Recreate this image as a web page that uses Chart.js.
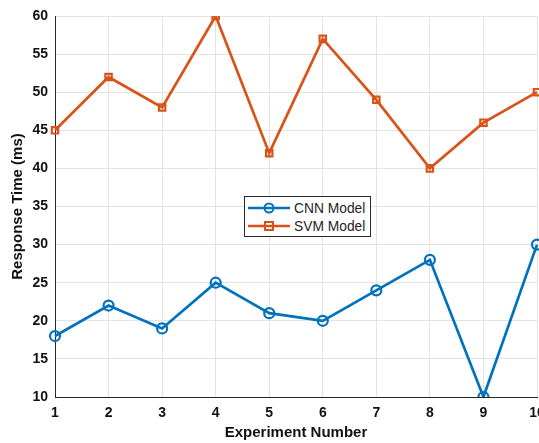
<!DOCTYPE html>
<html>
<head>
<meta charset="utf-8">
<script src="https://cdn.jsdelivr.net/npm/chart.js@4/dist/chart.umd.min.js"></script>
<style>
    html, body { margin: 0; padding: 0; background: #fff; overflow: hidden; }
    #wrap { position: relative; width: 539px; height: 443px; overflow: hidden; }
    #chart { position: absolute; left: 0; top: 0; }
    #legend {
        position: absolute; left: 244px; top: 196px; width: 125px; height: 39px;
        border: 1px solid #262626; background: #fff;
        font: 13.8px Arial, "Liberation Sans", sans-serif; color: #262626;
    }
    .row { position: absolute; left: 3px; height: 16px; display: flex; align-items: center; white-space: nowrap; }
    .row svg { margin-right: 4px; }
</style>
</head>
<body>
<div id="wrap">
    <canvas id="chart" width="560" height="443"></canvas>
    <div id="legend"></div>
</div>
<script>
// Data
const experiments = ['1', '2', '3', '4', '5', '6', '7', '8', '9', '10'];
const cnnTimes = [18, 22, 19, 25, 21, 20, 24, 28, 10, 30];
const svmTimes = [45, 52, 48, 60, 42, 57, 49, 40, 46, 50];
const yTicks = [10, 15, 20, 25, 30, 35, 40, 45, 50, 55, 60];

const blue = '#0072BD';
const orange = '#D95319';
const family = 'Arial, "Liberation Sans", sans-serif';
const tickFont = { family: family, size: 14, weight: 'bold' };
const titleFont = { family: family, size: 15, weight: 'bold' };

const ctx = document.getElementById('chart').getContext('2d');
const chart = new Chart(ctx, {
    type: 'line',
    data: {
        labels: experiments,
        datasets: [{
            label: 'CNN Model',
            data: cnnTimes,
            borderColor: blue,
            borderWidth: 2.7,
            pointStyle: 'circle',
            pointRadius: 5,
            pointBorderWidth: 2.2,
            pointBackgroundColor: 'rgba(0,0,0,0)',
            pointBorderColor: blue,
            tension: 0
        }, {
            label: 'SVM Model',
            data: svmTimes,
            borderColor: orange,
            borderWidth: 2.7,
            pointStyle: 'rect',
            pointRadius: 4.5,
            pointBorderWidth: 2.2,
            pointBackgroundColor: 'rgba(0,0,0,0)',
            pointBorderColor: orange,
            tension: 0
        }]
    },
    options: {
        responsive: false,
        animation: false,
        devicePixelRatio: 1,
        layout: { padding: { left: 0, top: 16, right: 23, bottom: 0 } },
        plugins: {
            legend: { display: false },
            tooltip: { enabled: false }
        },
        scales: {
            x: {
                offset: false,
                grid: { color: '#e3e3e3', drawTicks: false },
                border: { color: '#262626', width: 1 },
                ticks: { color: '#111', font: tickFont, padding: 8, maxRotation: 0 },
                title: {
                    display: true,
                    text: 'Experiment Number',
                    color: '#111',
                    font: titleFont,
                    padding: { top: 0, bottom: 1 }
                },
                afterFit: (scale) => { scale.height = 46; }
            },
            y: {
                min: 10,
                max: 60,
                afterBuildTicks: (scale) => { scale.ticks = yTicks.map(v => ({ value: v })); },
                grid: { color: '#e3e3e3', drawTicks: false },
                border: { color: '#262626', width: 1 },
                ticks: { color: '#111', font: tickFont, padding: 7 },
                title: {
                    display: true,
                    text: 'Response Time (ms)',
                    color: '#111',
                    font: titleFont,
                    padding: { top: 9, bottom: 4 }
                },
                afterFit: (scale) => { scale.width = 55; }
            }
        }
    }
});

// HTML legend placed inside the plot like the original
function swatch(color, marker) {
    const m = marker === 'circle'
        ? `<circle cx="21" cy="8" r="4.5" fill="none" stroke="${color}" stroke-width="2"/>`
        : `<rect x="17" y="4" width="8" height="8" fill="none" stroke="${color}" stroke-width="2"/>`;
    return `<svg width="42" height="16"><line x1="0" y1="8" x2="42" y2="8" stroke="${color}" stroke-width="2.5"/>${m}</svg>`;
}
const legend = document.getElementById('legend');
chart.data.datasets.forEach((ds, i) => {
    const row = document.createElement('div');
    row.className = 'row';
    row.style.top = (3 + i * 18) + 'px';
    row.innerHTML = swatch(ds.borderColor, ds.pointStyle) + '<span>' + ds.label + '</span>';
    legend.appendChild(row);
});
</script>
</body>
</html>
